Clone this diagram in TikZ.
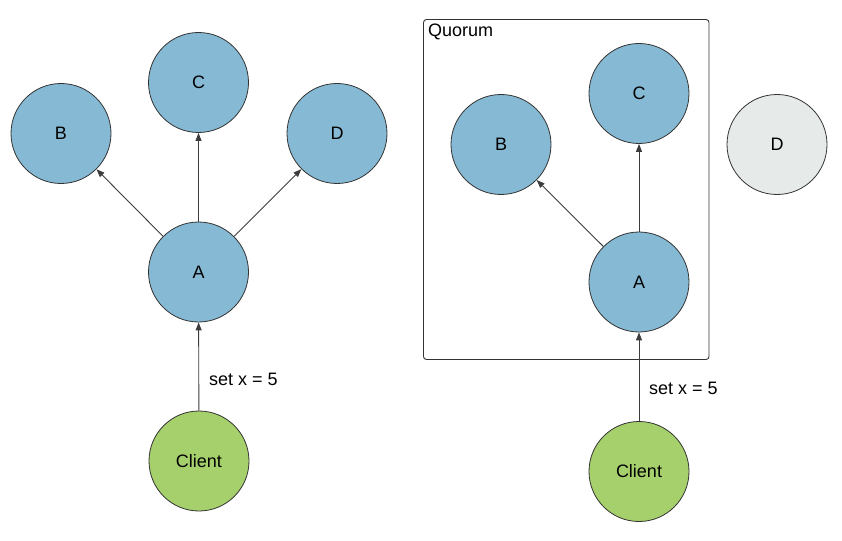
\documentclass[tikz,border=0pt]{standalone}
\usepackage{fontspec}
\setmainfont{Liberation Sans}
\usetikzlibrary{arrows.meta}
\definecolor{nodeblue}{RGB}{133,185,212}
\definecolor{nodegreen}{RGB}{166,208,108}
\definecolor{nodegray}{RGB}{230,234,233}
\definecolor{edgecol}{RGB}{51,51,51}
\definecolor{arrowcol}{RGB}{60,60,60}
\tikzset{
  circ/.style={circle, draw=edgecol, line width=0.8pt, minimum size=100pt, inner sep=0pt, font=\fontsize{18}{20}\selectfont},
  srv/.style={circ, fill=nodeblue},
  cli/.style={circ, fill=nodegreen},
  off/.style={circ, fill=nodegray},
  conn/.style={draw=arrowcol, line width=0.9pt, -{Triangle[length=8pt,width=6pt]}},
  lbl/.style={inner sep=0pt, font=\fontsize{18}{20}\selectfont}
}
\begin{document}
\begin{tikzpicture}[x=1pt,y=-1pt]
\useasboundingbox (0,0) rectangle (842,540);
% left
\node[srv] (B1) at (61,133.5) {B};
\node[srv] (C1) at (198.5,82.5) {C};
\node[srv] (D1) at (337,133.5) {D};
\node[srv] (A1) at (198.5,272) {A};
\node[cli] (K1) at (199,461) {Client};
\draw[conn] (A1) -- (B1);
\draw[conn] (A1) -- (C1);
\draw[conn] (A1) -- (D1);
\draw[conn] (K1) -- (A1);
\node[lbl, anchor=west] (L1) at (209,379) {set x = 5};
% right
\draw[draw=edgecol, line width=0.9pt, rounded corners=3pt] (423.5,19.5) rectangle (709,359.5);
\node[lbl, anchor=base west] (Q) at (428,37) {Quorum};
\node[srv] (B2) at (501,144.5) {B};
\node[srv] (C2) at (639,93.5) {C};
\node[off] (D2) at (777,144.5) {D};
\node[srv] (A2) at (639,282) {A};
\node[cli] (K2) at (639,471.5) {Client};
\draw[conn] (A2) -- (B2);
\draw[conn] (A2) -- (C2);
\draw[conn] (K2) -- (A2);
\node[lbl, anchor=west] (L2) at (649,388) {set x = 5};
\end{tikzpicture}
\end{document}
